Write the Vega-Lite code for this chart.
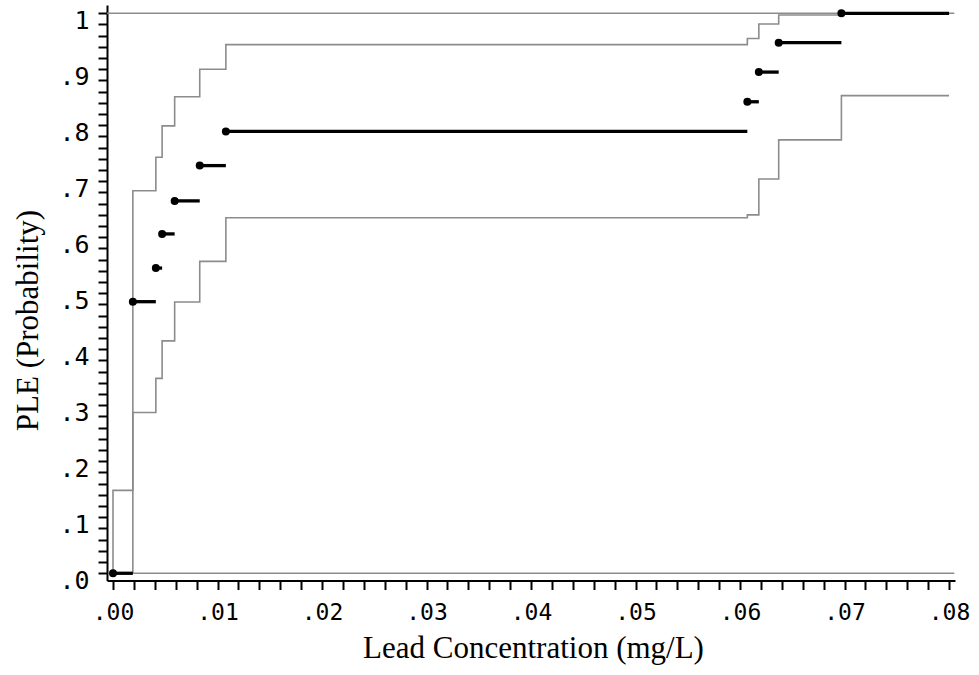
{
  "$schema": "https://vega.github.io/schema/vega-lite/v6.json",
  "width": 848,
  "height": 575.5,
  "autosize": {"type": "none"},
  "padding": {"left": 107, "top": 5, "right": 24, "bottom": 94.5},
  "background": "white",
  "config": {"view": {"stroke": null}},
  "datasets": {
    "refs": [
      {"x": 0, "x2": 0.0805, "y": 0},
      {"x": -0.00057, "x2": 0.0805, "y": 1}
    ],
    "bands": [
      {"i": 0, "bound": "upper", "x": 0, "y": 0},
      {"i": 1, "bound": "upper", "x": 0, "y": 0.148},
      {"i": 2, "bound": "upper", "x": 0.0019, "y": 0.683},
      {"i": 3, "bound": "upper", "x": 0.0041, "y": 0.743},
      {"i": 4, "bound": "upper", "x": 0.0047, "y": 0.799},
      {"i": 5, "bound": "upper", "x": 0.0059, "y": 0.851},
      {"i": 6, "bound": "upper", "x": 0.0083, "y": 0.9},
      {"i": 7, "bound": "upper", "x": 0.0108, "y": 0.944},
      {"i": 8, "bound": "upper", "x": 0.0607, "y": 0.955},
      {"i": 9, "bound": "upper", "x": 0.0618, "y": 0.981},
      {"i": 10, "bound": "upper", "x": 0.0637, "y": 0.997},
      {"i": 11, "bound": "upper", "x": 0.0697, "y": 1.0},
      {"i": 12, "bound": "upper", "x": 0.08, "y": 1.0},
      {"i": 0, "bound": "lower", "x": 0, "y": 0},
      {"i": 1, "bound": "lower", "x": 0.0019, "y": 0.287},
      {"i": 2, "bound": "lower", "x": 0.0041, "y": 0.348},
      {"i": 3, "bound": "lower", "x": 0.0047, "y": 0.415},
      {"i": 4, "bound": "lower", "x": 0.0059, "y": 0.4845},
      {"i": 5, "bound": "lower", "x": 0.0083, "y": 0.557},
      {"i": 6, "bound": "lower", "x": 0.0108, "y": 0.635},
      {"i": 7, "bound": "lower", "x": 0.0607, "y": 0.64},
      {"i": 8, "bound": "lower", "x": 0.0618, "y": 0.704},
      {"i": 9, "bound": "lower", "x": 0.0637, "y": 0.774},
      {"i": 10, "bound": "lower", "x": 0.0697, "y": 0.853},
      {"i": 11, "bound": "lower", "x": 0.08, "y": 0.853}
    ],
    "ple": [
      {"x": 0, "x2": 0.0019, "y": 0},
      {"x": 0.0019, "x2": 0.0041, "y": 0.485},
      {"x": 0.0041, "x2": 0.0047, "y": 0.545},
      {"x": 0.0047, "x2": 0.0059, "y": 0.606},
      {"x": 0.0059, "x2": 0.0083, "y": 0.665},
      {"x": 0.0083, "x2": 0.0108, "y": 0.728},
      {"x": 0.0108, "x2": 0.0607, "y": 0.789},
      {"x": 0.0607, "x2": 0.0618, "y": 0.842},
      {"x": 0.0618, "x2": 0.0637, "y": 0.895},
      {"x": 0.0637, "x2": 0.0697, "y": 0.9475},
      {"x": 0.0697, "x2": 0.08, "y": 1.0}
    ]
  },
  "encoding": {
    "x": {
      "field": "x", "type": "quantitative",
      "scale": {"domain": [-0.000574, 0.08057], "nice": false, "zero": false},
      "axis": {
        "values": [0,0.002,0.004,0.006,0.008,0.01,0.012,0.014,0.016,0.018,0.02,0.022,0.024,0.026,0.028,0.03,0.032,0.034,0.036,0.038,0.04,0.042,0.044,0.046,0.048,0.05,0.052,0.054,0.056,0.058,0.06,0.062,0.064,0.066,0.068,0.07,0.072,0.074,0.076,0.078,0.08],
        "labelExpr": "abs(datum.value*100 - round(datum.value*100)) < 0.001 ? replace(format(datum.value, '.2f'), '0.', '.') : ''",
        "tickSize": 9,
        "encode": {"ticks": {"update": {"y2": {"signal": "abs(datum.value*100 - round(datum.value*100)) < 0.001 ? 9 : 5"}}}},
        "tickWidth": 2,
        "tickColor": "black",
        "domainColor": "black",
        "domainWidth": 2,
        "grid": false,
        "labelOverlap": false,
        "labelFlush": false,
        "labelBound": false,
        "labelFont": "DejaVu Sans Mono",
        "labelFontSize": 23,
        "labelColor": "black",
        "labelBaseline": "alphabetic",
        "labelPadding": 30,
        "title": "Lead Concentration (mg/L)",
        "titleFont": "Liberation Serif",
        "titleFontSize": 31,
        "titleFontWeight": "normal",
        "titleColor": "black",
        "titleAnchor": "start",
        "titleAlign": "center",
        "titleBaseline": "alphabetic",
        "titleX": 426,
        "titleY": 76.5
      }
    },
    "y": {
      "field": "y", "type": "quantitative",
      "scale": {"domain": [-0.0129, 1.0148], "nice": false, "zero": false},
      "axis": {
        "values": [0,0.02,0.04,0.06,0.08,0.1,0.12,0.14,0.16,0.18,0.2,0.22,0.24,0.26,0.28,0.3,0.32,0.34,0.36,0.38,0.4,0.42,0.44,0.46,0.48,0.5,0.52,0.54,0.56,0.58,0.6,0.62,0.64,0.66,0.68,0.7,0.72,0.74,0.76,0.78,0.8,0.82,0.84,0.86,0.88,0.9,0.92,0.94,0.96,0.98,1],
        "labelExpr": "abs(datum.value*10 - round(datum.value*10)) < 0.001 ? (datum.value == 1 ? '1' : replace(format(datum.value, '.1f'), '0.', '.')) : ''",
        "tickSize": 9,
        "encode": {"ticks": {"update": {"x2": {"signal": "abs(datum.value*10 - round(datum.value*10)) < 0.001 ? -9 : -6"}}}},
        "tickWidth": 2,
        "tickColor": "black",
        "domainColor": "black",
        "domainWidth": 2,
        "grid": false,
        "labelOverlap": false,
        "labelFlush": false,
        "labelBound": false,
        "labelFont": "DejaVu Sans Mono",
        "labelFontSize": 25,
        "labelColor": "black",
        "labelBaseline": "alphabetic",
        "labelOffset": 15.5,
        "labelPadding": 9,
        "title": "PLE (Probability)",
        "titleFont": "Liberation Serif",
        "titleFontSize": 31,
        "titleFontWeight": "normal",
        "titleColor": "black",
        "titleAnchor": "start",
        "titleAlign": "center",
        "titleBaseline": "alphabetic",
        "titleAngle": -90,
        "titleX": -70,
        "titleY": 315
      }
    }
  },
  "layer": [
    {
      "data": {"name": "refs"},
      "mark": {"type": "rule", "color": "#8c8c8c", "strokeWidth": 1.6},
      "encoding": {"x2": {"field": "x2"}}
    },
    {
      "data": {"name": "bands"},
      "mark": {"type": "line", "interpolate": "step-after", "color": "#8c8c8c", "strokeWidth": 1.6},
      "encoding": {
        "detail": {"field": "bound"},
        "order": {"field": "i", "type": "quantitative"}
      }
    },
    {
      "data": {"name": "ple"},
      "mark": {"type": "rule", "color": "black", "strokeWidth": 3.3},
      "encoding": {"x2": {"field": "x2"}}
    },
    {
      "data": {"name": "ple"},
      "mark": {"type": "point", "filled": true, "color": "black", "opacity": 1, "size": 64},
      "encoding": {}
    }
  ]
}
